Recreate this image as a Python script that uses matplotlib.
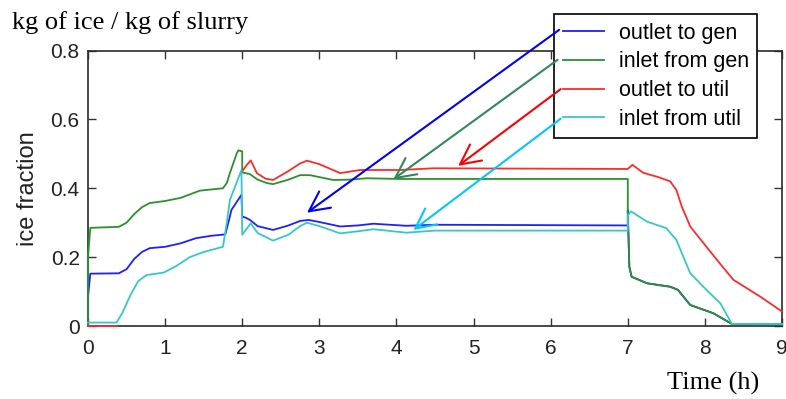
import numpy as np
import matplotlib
matplotlib.use("Agg")
import matplotlib.pyplot as plt

# time (h) and ice fraction
t_gen_out = [0, 0.0, 0.03, 0.4, 0.5, 0.6, 0.7, 0.8, 1.0, 1.2, 1.4, 1.6, 1.78,
             1.82, 1.86, 1.99, 2.0, 2.05, 2.1, 2.2, 2.4, 2.6, 2.75, 2.86, 3.0,
             3.27, 3.5, 3.7, 4.13, 4.5, 7.0,
             7.0, 7.02, 7.05, 7.25, 7.55, 7.65, 7.81, 8.11, 8.35, 9.0]
v_gen_out = [0.0, 0.085, 0.152, 0.153, 0.165, 0.195, 0.215, 0.226, 0.23, 0.24,
             0.255, 0.262, 0.266, 0.30, 0.337, 0.381, 0.318, 0.314, 0.308, 0.29,
             0.279, 0.292, 0.305, 0.308, 0.302, 0.289, 0.292, 0.297, 0.291,
             0.294, 0.292,
             0.337, 0.172, 0.143, 0.124, 0.114, 0.105, 0.061, 0.037, 0.006, 0.004]

t_gen_in = [0, 0.0, 0.03, 0.4, 0.5, 0.6, 0.7, 0.8, 1.0, 1.2, 1.45, 1.75, 1.8,
            1.84, 1.93, 1.95, 2.0, 2.0, 2.1, 2.2, 2.32, 2.4, 2.6, 2.75, 2.88,
            3.18, 3.4, 3.61, 4.05, 7.0,
            7.0, 7.02, 7.05, 7.25, 7.55, 7.65, 7.81, 8.11, 8.35, 9.0]
v_gen_in = [0.0, 0.2, 0.285, 0.288, 0.30, 0.325, 0.345, 0.357, 0.363, 0.372,
            0.393, 0.40, 0.415, 0.444, 0.502, 0.51, 0.507, 0.446, 0.441, 0.425,
            0.415, 0.412, 0.425, 0.438, 0.438, 0.424, 0.425, 0.429, 0.427, 0.427,
            0.337, 0.172, 0.143, 0.124, 0.114, 0.105, 0.061, 0.037, 0.006, 0.004]

t_util_out = [0, 0.38, None, 2.0, 2.05, 2.11, 2.19, 2.3, 2.4, 2.6, 2.75, 2.84,
              3.0, 3.27, 3.53, 4.05, 4.48, 7.0, 7.06, 7.2, 7.4, 7.55, 7.63,
              7.7, 7.81, 8.02, 8.2, 8.37, 8.72, 9.0]
v_util_out = [0.0, 0.0, None, 0.449, 0.465, 0.481, 0.444, 0.428, 0.424, 0.45,
              0.472, 0.48, 0.47, 0.444, 0.453, 0.453, 0.458, 0.456, 0.468,
              0.445, 0.432, 0.42, 0.395, 0.347, 0.289, 0.23, 0.18, 0.134,
              0.085, 0.042]

t_util_in = [0, 0.37, 0.45, 0.55, 0.65, 0.76, 0.98, 1.15, 1.32, 1.5, 1.75, 1.8,
             1.84, 1.99, 2.0, 2.05, 2.11, 2.2, 2.4, 2.6, 2.75, 2.84, 3.0, 3.27,
             3.5, 3.7, 4.13, 4.5, 7.0,
             7.0, 7.04, 7.25, 7.5, 7.63, 7.81, 8.02, 8.2, 8.35, 9.0]
v_util_in = [0.01, 0.01, 0.04, 0.09, 0.13, 0.148, 0.155, 0.175, 0.20, 0.215,
             0.23, 0.30, 0.366, 0.453, 0.265, 0.28, 0.298, 0.27, 0.248, 0.265,
             0.29, 0.30, 0.29, 0.269, 0.275, 0.281, 0.271, 0.277, 0.277,
             0.32, 0.333, 0.303, 0.284, 0.25, 0.153, 0.105, 0.066, 0.006, 0.006]

labels = ["outlet to gen", "inlet from gen", "outlet to util", "inlet from util"]
colors = ["#1f1fff", "#2a922a", "#ff2a2a", "#36c8c8"]
arrow_colors = ["#0000ff", "#2e8b57", "#ff0000", "#00c8ff"]
# arrow start (legend side) and tip (on curve), in data units
arrow_start = [(6.11, 0.86), (6.09, 0.773), (6.13, 0.688), (6.13, 0.602)]
arrow_tip = [(2.84, 0.329), (3.96, 0.426), (4.80, 0.465), (4.22, 0.279)]

sans = "Liberation Sans"
serif = "Liberation Serif"

fig = plt.figure(figsize=(7.86, 3.99), dpi=100)
ax = fig.add_axes([88 / 786, 1 - 326 / 399, 694 / 786, 275.5 / 399])

series = [(t_gen_out, v_gen_out), (t_gen_in, v_gen_in),
          (t_util_out, v_util_out), (t_util_in, v_util_in)]
handles = []
for (t, v), c, lab in zip(series, colors, labels):
    t = np.array(t, dtype=float)
    v = np.array(v, dtype=float)
    h, = ax.plot(t, v, color=c, lw=1.3, label=lab, clip_on=False, zorder=3)
    handles.append(h)

ax.set_xlim(0, 9)
ax.set_ylim(0, 0.8)
ax.set_xticks(range(10))
ax.set_yticks([0, 0.2, 0.4, 0.6, 0.8])
ax.set_yticklabels(["0", "0.2", "0.4", "0.6", "0.8"])
ax.tick_params(direction="in", length=6, width=1, color="#333333",
               top=True, right=True, labelsize=15, labelcolor="#222222")
ax.tick_params(axis="x", pad=9)
ax.tick_params(axis="y", pad=6)
for lab in ax.get_xticklabels() + ax.get_yticklabels():
    lab.set_fontfamily(sans)
for s in ax.spines.values():
    s.set_linewidth(1.2)
    s.set_color("#2a2a2a")

ax.set_ylabel("ice fraction", fontsize=17, fontfamily=sans, color="#222222",
              labelpad=8)

leg = ax.legend(handles=handles, loc="upper left",
                bbox_to_anchor=(554 / 786, 1 - 14 / 399),
                bbox_transform=fig.transFigure, prop={"family": sans, "size": 15.5},
                frameon=True, fancybox=False, framealpha=1, edgecolor="black",
                handlelength=1.9, handletextpad=0.7, labelspacing=0.36,
                borderpad=0.4, borderaxespad=0)
leg.get_frame().set_linewidth(1.2)
leg.set_zorder(5)

for s, e, c in zip(arrow_start, arrow_tip, arrow_colors):
    ax.annotate("", xy=e, xytext=s, annotation_clip=False, zorder=6,
                arrowprops=dict(arrowstyle="->", color=c, lw=1.5,
                                mutation_scale=36, shrinkA=0, shrinkB=0))

fig.text(12 / 786, 1 - 29 / 399, "kg of ice / kg of slurry", fontsize=19,
         fontfamily=serif, va="baseline", ha="left")
fig.text(667 / 786, 1 - 390 / 399, "Time (h)", fontsize=19,
         fontfamily=serif, va="baseline", ha="left")

fig.savefig("out.png", dpi=100)
